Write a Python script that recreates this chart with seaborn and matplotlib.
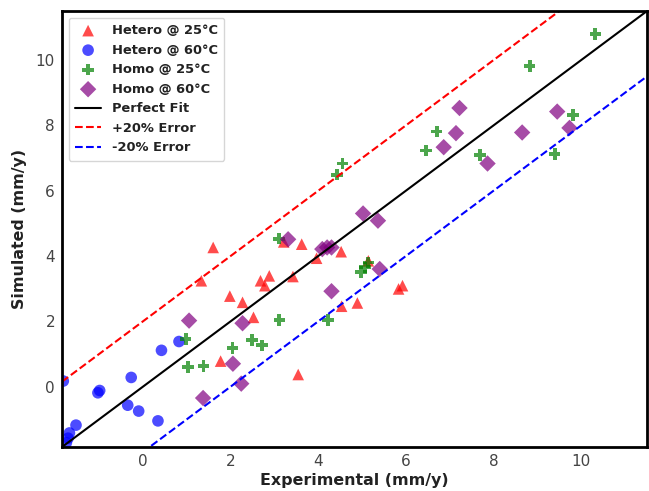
import numpy as np
import pandas as pd
import matplotlib
matplotlib.use("Agg")
import matplotlib.pyplot as plt
import seaborn as sns

# Hetero @ 25°C
hetero25_exp = [1.60, 1.33, 1.98, 2.27, 2.52, 1.77, 2.68, 2.78, 2.88, 3.42,
                3.21, 3.62, 3.96, 4.52, 5.14, 5.83, 5.92, 4.89, 4.53, 3.54]
hetero25_sim = [4.26, 3.24, 2.77, 2.58, 2.12, 0.78, 3.24, 3.09, 3.39, 3.37,
                4.43, 4.36, 3.93, 4.13, 3.85, 2.99, 3.09, 2.56, 2.46, 0.37]

# Hetero @ 60°C
hetero60_exp = [-1.82, -0.99, -1.03, -0.27, 0.42, 0.82, -0.35, -0.10, 0.34,
                -1.53, -1.68, -1.71, -1.75]
hetero60_sim = [0.17, -0.12, -0.19, 0.28, 1.11, 1.38, -0.57, -0.75, -1.05,
                -1.18, -1.42, -1.58, -1.72]

# Homo @ 25°C
homo25_exp = [0.97, 1.03, 1.38, 2.04, 2.48, 2.71, 3.11, 4.22, 3.10, 4.98,
              5.07, 5.14, 4.55, 4.42, 6.70, 6.45, 10.32, 8.82, 9.81, 9.39, 7.69]
homo25_sim = [1.46, 0.60, 0.63, 1.18, 1.42, 1.26, 2.04, 2.04, 4.53, 3.50,
              3.65, 3.80, 6.83, 6.49, 7.81, 7.23, 10.79, 9.82, 8.31, 7.13, 7.10]

# Homo @ 60°C
homo60_exp = [1.05, 2.27, 2.05, 2.24, 1.37, 3.31, 4.09, 4.20, 4.30, 5.02,
              5.36, 5.40, 4.30, 7.22, 7.14, 6.86, 7.86, 8.65, 9.45, 9.73]
homo60_sim = [2.02, 1.94, 0.70, 0.09, -0.35, 4.51, 4.21, 4.26, 4.26, 5.30,
              5.08, 3.60, 2.92, 8.53, 7.76, 7.33, 6.83, 7.78, 8.42, 7.92]

lims = [-1.85, 11.5]
offset = 2.0

sns.set_style("white")

fig = plt.figure(figsize=(6.49, 4.91), dpi=100)
ax = fig.add_axes([0.0955, 0.0896, 0.9015, 0.888])

series = [
    (hetero25_exp, hetero25_sim, "red", "^", "Hetero @ 25°C"),
    (hetero60_exp, hetero60_sim, "blue", "o", "Hetero @ 60°C"),
    (homo25_exp, homo25_sim, "green", "P", "Homo @ 25°C"),
    (homo60_exp, homo60_sim, "purple", "D", "Homo @ 60°C"),
]
for xs, ys, col, mk, lab in series:
    df = pd.DataFrame({"exp": xs, "sim": ys})
    sns.scatterplot(data=df, x="exp", y="sim", color=col, marker=mk, s=70,
                    alpha=0.7, edgecolor="none", label=lab, ax=ax)

ax.plot(lims, lims, color="black", lw=1.5, label="Perfect Fit")
ax.plot(lims, [v + offset for v in lims], color="red", ls="--", lw=1.5, label="+20% Error")
ax.plot(lims, [v - offset for v in lims], color="blue", ls="--", lw=1.5, label="-20% Error")

ax.set_xlim(lims)
ax.set_ylim(lims)
ax.set_xticks([0, 2, 4, 6, 8, 10])
ax.set_yticks([0, 2, 4, 6, 8, 10])
ax.tick_params(direction="in", length=4, labelsize=11, colors="#444444", pad=5)
ax.tick_params(color="black")
for sp in ax.spines.values():
    sp.set_color("black")
    sp.set_linewidth(2)

ax.set_xlabel("Experimental (mm/y)", fontsize=11.4, fontweight="bold",
              color="#222222", labelpad=3)
ax.set_ylabel("Simulated (mm/y)", fontsize=11.4, fontweight="bold",
              color="#222222", labelpad=6)

leg = ax.legend(loc="upper left", prop={"weight": "bold", "size": 9.4},
                frameon=True, handlelength=2.0, borderpad=0.5, labelspacing=0.5,
                handletextpad=0.8)
for t in leg.get_texts():
    t.set_color("#222222")

fig.savefig("out.png", dpi=100)
